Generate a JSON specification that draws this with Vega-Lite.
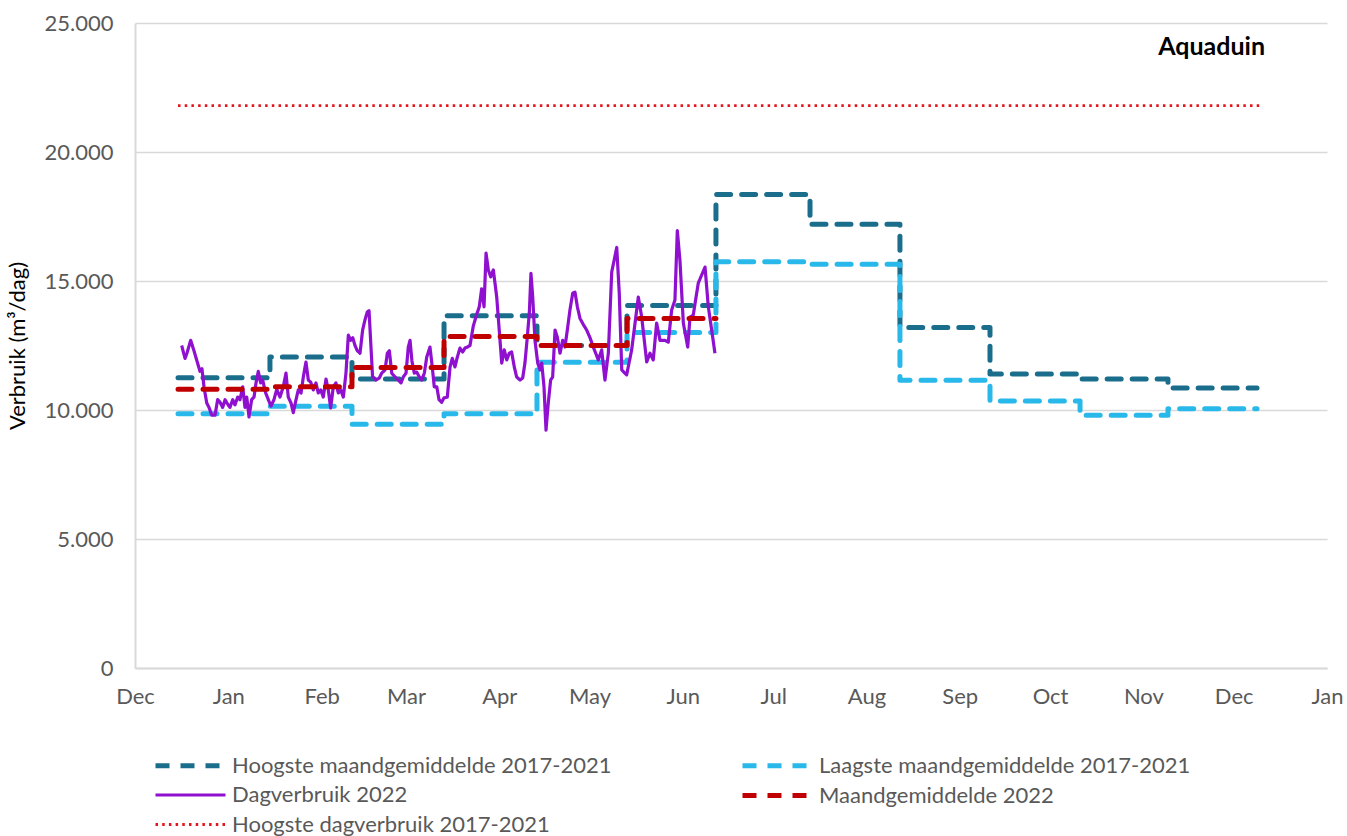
{
  "$schema": "https://vega.github.io/schema/vega-lite/v6.json",
  "width": 1192,
  "height": 645,
  "autosize": {"type": "none"},
  "padding": {"left": 135, "top": 23, "right": 20, "bottom": 168},
  "background": "white",
  "title": {
    "text": "Aquaduin",
    "anchor": "end",
    "frame": "group",
    "font": "Lato",
    "fontSize": 25,
    "fontWeight": "bold",
    "color": "#000000",
    "baseline": "alphabetic",
    "offset": 0,
    "dy": 68,
    "dx": -62
  },
  "datasets": {
    "maand": [
      {"serie": "Hoogste maandgemiddelde 2017-2021", "datum": "2021-12-15T07:00", "waarde": 11250},
      {"serie": "Hoogste maandgemiddelde 2017-2021", "datum": "2022-01-14T20:00", "waarde": 12050},
      {"serie": "Hoogste maandgemiddelde 2017-2021", "datum": "2022-02-11T02:00", "waarde": 11200},
      {"serie": "Hoogste maandgemiddelde 2017-2021", "datum": "2022-03-13T16:00", "waarde": 13650},
      {"serie": "Hoogste maandgemiddelde 2017-2021", "datum": "2022-04-13T13:00", "waarde": 12500},
      {"serie": "Hoogste maandgemiddelde 2017-2021", "datum": "2022-05-13T11:00", "waarde": 14050},
      {"serie": "Hoogste maandgemiddelde 2017-2021", "datum": "2022-06-12T00:00", "waarde": 18350},
      {"serie": "Hoogste maandgemiddelde 2017-2021", "datum": "2022-07-13T06:00", "waarde": 17200},
      {"serie": "Hoogste maandgemiddelde 2017-2021", "datum": "2022-08-12T03:00", "waarde": 13200},
      {"serie": "Hoogste maandgemiddelde 2017-2021", "datum": "2022-09-11T01:00", "waarde": 11400},
      {"serie": "Hoogste maandgemiddelde 2017-2021", "datum": "2022-10-10T23:00", "waarde": 11200},
      {"serie": "Hoogste maandgemiddelde 2017-2021", "datum": "2022-11-09T04:00", "waarde": 10850},
      {"serie": "Hoogste maandgemiddelde 2017-2021", "datum": "2022-12-08T18:00", "waarde": 10850},
      {"serie": "Laagste maandgemiddelde 2017-2021", "datum": "2021-12-15T07:00", "waarde": 9850},
      {"serie": "Laagste maandgemiddelde 2017-2021", "datum": "2022-01-14T20:00", "waarde": 10150},
      {"serie": "Laagste maandgemiddelde 2017-2021", "datum": "2022-02-11T02:00", "waarde": 9450},
      {"serie": "Laagste maandgemiddelde 2017-2021", "datum": "2022-03-13T16:00", "waarde": 9850},
      {"serie": "Laagste maandgemiddelde 2017-2021", "datum": "2022-04-13T13:00", "waarde": 11850},
      {"serie": "Laagste maandgemiddelde 2017-2021", "datum": "2022-05-13T11:00", "waarde": 13000},
      {"serie": "Laagste maandgemiddelde 2017-2021", "datum": "2022-06-12T00:00", "waarde": 15750},
      {"serie": "Laagste maandgemiddelde 2017-2021", "datum": "2022-07-13T06:00", "waarde": 15650},
      {"serie": "Laagste maandgemiddelde 2017-2021", "datum": "2022-08-12T03:00", "waarde": 11150},
      {"serie": "Laagste maandgemiddelde 2017-2021", "datum": "2022-09-11T01:00", "waarde": 10350},
      {"serie": "Laagste maandgemiddelde 2017-2021", "datum": "2022-10-10T23:00", "waarde": 9800},
      {"serie": "Laagste maandgemiddelde 2017-2021", "datum": "2022-11-09T04:00", "waarde": 10050},
      {"serie": "Laagste maandgemiddelde 2017-2021", "datum": "2022-12-08T18:00", "waarde": 10050},
      {"serie": "Maandgemiddelde 2022", "datum": "2021-12-15T07:00", "waarde": 10800},
      {"serie": "Maandgemiddelde 2022", "datum": "2022-01-14T20:00", "waarde": 10900},
      {"serie": "Maandgemiddelde 2022", "datum": "2022-02-11T02:00", "waarde": 11650},
      {"serie": "Maandgemiddelde 2022", "datum": "2022-03-13T16:00", "waarde": 12850},
      {"serie": "Maandgemiddelde 2022", "datum": "2022-04-13T13:00", "waarde": 12500},
      {"serie": "Maandgemiddelde 2022", "datum": "2022-05-13T11:00", "waarde": 13550},
      {"serie": "Maandgemiddelde 2022", "datum": "2022-06-12T00:00", "waarde": 13550}
    ],
    "maxdag": [
      {"serie": "Hoogste dagverbruik 2017-2021", "datum": "2021-12-15T07:00", "waarde": 21800},
      {"serie": "Hoogste dagverbruik 2017-2021", "datum": "2022-12-10T09:00", "waarde": 21800}
    ],
    "dag": [
      {"serie": "Dagverbruik 2022", "datum": "2021-12-16T12:00", "waarde": 12500},
      {"serie": "Dagverbruik 2022", "datum": "2021-12-17T15:00", "waarde": 12000},
      {"serie": "Dagverbruik 2022", "datum": "2021-12-18T06:00", "waarde": 12200},
      {"serie": "Dagverbruik 2022", "datum": "2021-12-19T12:00", "waarde": 12700},
      {"serie": "Dagverbruik 2022", "datum": "2021-12-20T14:00", "waarde": 12300},
      {"serie": "Dagverbruik 2022", "datum": "2021-12-21T14:00", "waarde": 11900},
      {"serie": "Dagverbruik 2022", "datum": "2021-12-22T14:00", "waarde": 11500},
      {"serie": "Dagverbruik 2022", "datum": "2021-12-23T06:00", "waarde": 11600},
      {"serie": "Dagverbruik 2022", "datum": "2021-12-23T22:00", "waarde": 10900},
      {"serie": "Dagverbruik 2022", "datum": "2021-12-24T20:00", "waarde": 10270},
      {"serie": "Dagverbruik 2022", "datum": "2021-12-25T14:00", "waarde": 10100},
      {"serie": "Dagverbruik 2022", "datum": "2021-12-26T12:00", "waarde": 9800},
      {"serie": "Dagverbruik 2022", "datum": "2021-12-27T14:00", "waarde": 9800},
      {"serie": "Dagverbruik 2022", "datum": "2021-12-28T11:00", "waarde": 10400},
      {"serie": "Dagverbruik 2022", "datum": "2021-12-29T06:00", "waarde": 10300},
      {"serie": "Dagverbruik 2022", "datum": "2021-12-30T03:00", "waarde": 10100},
      {"serie": "Dagverbruik 2022", "datum": "2021-12-30T22:00", "waarde": 10400},
      {"serie": "Dagverbruik 2022", "datum": "2021-12-31T13:00", "waarde": 10270},
      {"serie": "Dagverbruik 2022", "datum": "2022-01-01T13:00", "waarde": 10100},
      {"serie": "Dagverbruik 2022", "datum": "2022-01-02T11:00", "waarde": 10400},
      {"serie": "Dagverbruik 2022", "datum": "2022-01-03T05:00", "waarde": 10200},
      {"serie": "Dagverbruik 2022", "datum": "2022-01-04T03:00", "waarde": 10500},
      {"serie": "Dagverbruik 2022", "datum": "2022-01-04T21:00", "waarde": 10400},
      {"serie": "Dagverbruik 2022", "datum": "2022-01-05T19:00", "waarde": 10900},
      {"serie": "Dagverbruik 2022", "datum": "2022-01-06T13:00", "waarde": 10100},
      {"serie": "Dagverbruik 2022", "datum": "2022-01-07T03:00", "waarde": 10500},
      {"serie": "Dagverbruik 2022", "datum": "2022-01-07T21:00", "waarde": 9730},
      {"serie": "Dagverbruik 2022", "datum": "2022-01-08T18:00", "waarde": 10400},
      {"serie": "Dagverbruik 2022", "datum": "2022-01-09T13:00", "waarde": 10500},
      {"serie": "Dagverbruik 2022", "datum": "2022-01-10T05:00", "waarde": 11050},
      {"serie": "Dagverbruik 2022", "datum": "2022-01-10T23:00", "waarde": 11500},
      {"serie": "Dagverbruik 2022", "datum": "2022-01-11T18:00", "waarde": 11050},
      {"serie": "Dagverbruik 2022", "datum": "2022-01-12T10:00", "waarde": 11160},
      {"serie": "Dagverbruik 2022", "datum": "2022-01-13T10:00", "waarde": 10660},
      {"serie": "Dagverbruik 2022", "datum": "2022-01-14T07:00", "waarde": 10400},
      {"serie": "Dagverbruik 2022", "datum": "2022-01-15T04:00", "waarde": 10150},
      {"serie": "Dagverbruik 2022", "datum": "2022-01-16T04:00", "waarde": 10400},
      {"serie": "Dagverbruik 2022", "datum": "2022-01-17T02:00", "waarde": 10800},
      {"serie": "Dagverbruik 2022", "datum": "2022-01-18T04:00", "waarde": 10500},
      {"serie": "Dagverbruik 2022", "datum": "2022-01-19T06:00", "waarde": 10900},
      {"serie": "Dagverbruik 2022", "datum": "2022-01-20T04:00", "waarde": 11430},
      {"serie": "Dagverbruik 2022", "datum": "2022-01-20T22:00", "waarde": 10500},
      {"serie": "Dagverbruik 2022", "datum": "2022-01-21T20:00", "waarde": 10270},
      {"serie": "Dagverbruik 2022", "datum": "2022-01-22T14:00", "waarde": 9900},
      {"serie": "Dagverbruik 2022", "datum": "2022-01-23T12:00", "waarde": 10400},
      {"serie": "Dagverbruik 2022", "datum": "2022-01-24T06:00", "waarde": 10780},
      {"serie": "Dagverbruik 2022", "datum": "2022-01-25T04:00", "waarde": 10660},
      {"serie": "Dagverbruik 2022", "datum": "2022-01-25T22:00", "waarde": 11280},
      {"serie": "Dagverbruik 2022", "datum": "2022-01-26T19:00", "waarde": 11860},
      {"serie": "Dagverbruik 2022", "datum": "2022-01-27T14:00", "waarde": 11160},
      {"serie": "Dagverbruik 2022", "datum": "2022-01-28T09:00", "waarde": 11080},
      {"serie": "Dagverbruik 2022", "datum": "2022-01-29T06:00", "waarde": 10780},
      {"serie": "Dagverbruik 2022", "datum": "2022-01-30T03:00", "waarde": 11050},
      {"serie": "Dagverbruik 2022", "datum": "2022-01-30T21:00", "waarde": 10660},
      {"serie": "Dagverbruik 2022", "datum": "2022-01-31T17:00", "waarde": 10780},
      {"serie": "Dagverbruik 2022", "datum": "2022-02-01T13:00", "waarde": 10500},
      {"serie": "Dagverbruik 2022", "datum": "2022-02-02T11:00", "waarde": 11200},
      {"serie": "Dagverbruik 2022", "datum": "2022-02-03T05:00", "waarde": 10780},
      {"serie": "Dagverbruik 2022", "datum": "2022-02-04T00:00", "waarde": 10080},
      {"serie": "Dagverbruik 2022", "datum": "2022-02-04T21:00", "waarde": 10900},
      {"serie": "Dagverbruik 2022", "datum": "2022-02-05T18:00", "waarde": 11050},
      {"serie": "Dagverbruik 2022", "datum": "2022-02-06T13:00", "waarde": 10660},
      {"serie": "Dagverbruik 2022", "datum": "2022-02-07T08:00", "waarde": 10780},
      {"serie": "Dagverbruik 2022", "datum": "2022-02-08T05:00", "waarde": 10500},
      {"serie": "Dagverbruik 2022", "datum": "2022-02-09T02:00", "waarde": 11430},
      {"serie": "Dagverbruik 2022", "datum": "2022-02-09T21:00", "waarde": 12900},
      {"serie": "Dagverbruik 2022", "datum": "2022-02-10T16:00", "waarde": 12700},
      {"serie": "Dagverbruik 2022", "datum": "2022-02-11T08:00", "waarde": 12800},
      {"serie": "Dagverbruik 2022", "datum": "2022-02-12T02:00", "waarde": 12500},
      {"serie": "Dagverbruik 2022", "datum": "2022-02-12T20:00", "waarde": 12300},
      {"serie": "Dagverbruik 2022", "datum": "2022-02-13T18:00", "waarde": 12200},
      {"serie": "Dagverbruik 2022", "datum": "2022-02-14T15:00", "waarde": 13100},
      {"serie": "Dagverbruik 2022", "datum": "2022-02-15T10:00", "waarde": 13500},
      {"serie": "Dagverbruik 2022", "datum": "2022-02-16T04:00", "waarde": 13800},
      {"serie": "Dagverbruik 2022", "datum": "2022-02-16T18:00", "waarde": 13850},
      {"serie": "Dagverbruik 2022", "datum": "2022-02-17T22:00", "waarde": 11300},
      {"serie": "Dagverbruik 2022", "datum": "2022-02-19T01:00", "waarde": 11160},
      {"serie": "Dagverbruik 2022", "datum": "2022-02-20T04:00", "waarde": 11240},
      {"serie": "Dagverbruik 2022", "datum": "2022-02-20T23:00", "waarde": 11430},
      {"serie": "Dagverbruik 2022", "datum": "2022-02-22T01:00", "waarde": 11550},
      {"serie": "Dagverbruik 2022", "datum": "2022-02-22T20:00", "waarde": 12200},
      {"serie": "Dagverbruik 2022", "datum": "2022-02-23T12:00", "waarde": 12300},
      {"serie": "Dagverbruik 2022", "datum": "2022-02-24T07:00", "waarde": 11430},
      {"serie": "Dagverbruik 2022", "datum": "2022-02-25T09:00", "waarde": 11280},
      {"serie": "Dagverbruik 2022", "datum": "2022-02-26T11:00", "waarde": 11160},
      {"serie": "Dagverbruik 2022", "datum": "2022-02-27T09:00", "waarde": 11050},
      {"serie": "Dagverbruik 2022", "datum": "2022-02-28T03:00", "waarde": 11280},
      {"serie": "Dagverbruik 2022", "datum": "2022-03-01T01:00", "waarde": 11430},
      {"serie": "Dagverbruik 2022", "datum": "2022-03-01T19:00", "waarde": 12440},
      {"serie": "Dagverbruik 2022", "datum": "2022-03-02T09:00", "waarde": 12700},
      {"serie": "Dagverbruik 2022", "datum": "2022-03-03T00:00", "waarde": 11900},
      {"serie": "Dagverbruik 2022", "datum": "2022-03-03T19:00", "waarde": 11430},
      {"serie": "Dagverbruik 2022", "datum": "2022-03-04T14:00", "waarde": 11470},
      {"serie": "Dagverbruik 2022", "datum": "2022-03-05T11:00", "waarde": 11280},
      {"serie": "Dagverbruik 2022", "datum": "2022-03-06T06:00", "waarde": 11160},
      {"serie": "Dagverbruik 2022", "datum": "2022-03-07T03:00", "waarde": 11430},
      {"serie": "Dagverbruik 2022", "datum": "2022-03-07T22:00", "waarde": 12050},
      {"serie": "Dagverbruik 2022", "datum": "2022-03-09T00:00", "waarde": 12440},
      {"serie": "Dagverbruik 2022", "datum": "2022-03-09T18:00", "waarde": 11670},
      {"serie": "Dagverbruik 2022", "datum": "2022-03-10T10:00", "waarde": 10900},
      {"serie": "Dagverbruik 2022", "datum": "2022-03-11T06:00", "waarde": 10900},
      {"serie": "Dagverbruik 2022", "datum": "2022-03-12T00:00", "waarde": 10400},
      {"serie": "Dagverbruik 2022", "datum": "2022-03-12T21:00", "waarde": 10300},
      {"serie": "Dagverbruik 2022", "datum": "2022-03-13T16:00", "waarde": 10470},
      {"serie": "Dagverbruik 2022", "datum": "2022-03-14T18:00", "waarde": 10500},
      {"serie": "Dagverbruik 2022", "datum": "2022-03-15T16:00", "waarde": 11670},
      {"serie": "Dagverbruik 2022", "datum": "2022-03-16T10:00", "waarde": 12000},
      {"serie": "Dagverbruik 2022", "datum": "2022-03-17T07:00", "waarde": 11670},
      {"serie": "Dagverbruik 2022", "datum": "2022-03-18T02:00", "waarde": 12050},
      {"serie": "Dagverbruik 2022", "datum": "2022-03-18T23:00", "waarde": 12400},
      {"serie": "Dagverbruik 2022", "datum": "2022-03-19T21:00", "waarde": 12250},
      {"serie": "Dagverbruik 2022", "datum": "2022-03-20T15:00", "waarde": 12400},
      {"serie": "Dagverbruik 2022", "datum": "2022-03-21T10:00", "waarde": 12440},
      {"serie": "Dagverbruik 2022", "datum": "2022-03-22T07:00", "waarde": 12500},
      {"serie": "Dagverbruik 2022", "datum": "2022-03-23T09:00", "waarde": 13250},
      {"serie": "Dagverbruik 2022", "datum": "2022-03-24T12:00", "waarde": 13700},
      {"serie": "Dagverbruik 2022", "datum": "2022-03-25T09:00", "waarde": 14000},
      {"serie": "Dagverbruik 2022", "datum": "2022-03-26T04:00", "waarde": 14700},
      {"serie": "Dagverbruik 2022", "datum": "2022-03-26T23:00", "waarde": 14000},
      {"serie": "Dagverbruik 2022", "datum": "2022-03-27T15:00", "waarde": 16080},
      {"serie": "Dagverbruik 2022", "datum": "2022-03-28T09:00", "waarde": 15430},
      {"serie": "Dagverbruik 2022", "datum": "2022-03-29T04:00", "waarde": 15160},
      {"serie": "Dagverbruik 2022", "datum": "2022-03-30T01:00", "waarde": 15430},
      {"serie": "Dagverbruik 2022", "datum": "2022-03-31T04:00", "waarde": 14380},
      {"serie": "Dagverbruik 2022", "datum": "2022-04-01T00:00", "waarde": 13100},
      {"serie": "Dagverbruik 2022", "datum": "2022-04-01T20:00", "waarde": 11820},
      {"serie": "Dagverbruik 2022", "datum": "2022-04-02T16:00", "waarde": 12330},
      {"serie": "Dagverbruik 2022", "datum": "2022-04-03T12:00", "waarde": 11940},
      {"serie": "Dagverbruik 2022", "datum": "2022-04-04T08:00", "waarde": 12200},
      {"serie": "Dagverbruik 2022", "datum": "2022-04-05T03:00", "waarde": 12250},
      {"serie": "Dagverbruik 2022", "datum": "2022-04-06T00:00", "waarde": 11670},
      {"serie": "Dagverbruik 2022", "datum": "2022-04-06T19:00", "waarde": 11280},
      {"serie": "Dagverbruik 2022", "datum": "2022-04-07T22:00", "waarde": 11160},
      {"serie": "Dagverbruik 2022", "datum": "2022-04-08T19:00", "waarde": 11240},
      {"serie": "Dagverbruik 2022", "datum": "2022-04-09T13:00", "waarde": 11820},
      {"serie": "Dagverbruik 2022", "datum": "2022-04-10T08:00", "waarde": 12830},
      {"serie": "Dagverbruik 2022", "datum": "2022-04-11T00:00", "waarde": 13760},
      {"serie": "Dagverbruik 2022", "datum": "2022-04-11T13:00", "waarde": 15300},
      {"serie": "Dagverbruik 2022", "datum": "2022-04-12T03:00", "waarde": 14380},
      {"serie": "Dagverbruik 2022", "datum": "2022-04-12T21:00", "waarde": 12700},
      {"serie": "Dagverbruik 2022", "datum": "2022-04-13T19:00", "waarde": 11820},
      {"serie": "Dagverbruik 2022", "datum": "2022-04-14T13:00", "waarde": 11550},
      {"serie": "Dagverbruik 2022", "datum": "2022-04-15T03:00", "waarde": 11820},
      {"serie": "Dagverbruik 2022", "datum": "2022-04-15T21:00", "waarde": 10900},
      {"serie": "Dagverbruik 2022", "datum": "2022-04-16T13:00", "waarde": 9220},
      {"serie": "Dagverbruik 2022", "datum": "2022-04-17T07:00", "waarde": 10270},
      {"serie": "Dagverbruik 2022", "datum": "2022-04-18T02:00", "waarde": 11160},
      {"serie": "Dagverbruik 2022", "datum": "2022-04-18T18:00", "waarde": 11280},
      {"serie": "Dagverbruik 2022", "datum": "2022-04-19T13:00", "waarde": 13100},
      {"serie": "Dagverbruik 2022", "datum": "2022-04-20T07:00", "waarde": 12830},
      {"serie": "Dagverbruik 2022", "datum": "2022-04-21T05:00", "waarde": 12200},
      {"serie": "Dagverbruik 2022", "datum": "2022-04-22T02:00", "waarde": 12700},
      {"serie": "Dagverbruik 2022", "datum": "2022-04-22T20:00", "waarde": 12440},
      {"serie": "Dagverbruik 2022", "datum": "2022-04-23T15:00", "waarde": 13100},
      {"serie": "Dagverbruik 2022", "datum": "2022-04-24T12:00", "waarde": 13880},
      {"serie": "Dagverbruik 2022", "datum": "2022-04-25T10:00", "waarde": 14530},
      {"serie": "Dagverbruik 2022", "datum": "2022-04-26T04:00", "waarde": 14570},
      {"serie": "Dagverbruik 2022", "datum": "2022-04-26T23:00", "waarde": 14000},
      {"serie": "Dagverbruik 2022", "datum": "2022-04-27T20:00", "waarde": 13550},
      {"serie": "Dagverbruik 2022", "datum": "2022-04-29T00:00", "waarde": 13300},
      {"serie": "Dagverbruik 2022", "datum": "2022-04-30T01:00", "waarde": 13100},
      {"serie": "Dagverbruik 2022", "datum": "2022-05-01T04:00", "waarde": 12800},
      {"serie": "Dagverbruik 2022", "datum": "2022-05-02T06:00", "waarde": 12440},
      {"serie": "Dagverbruik 2022", "datum": "2022-05-03T22:00", "waarde": 11940},
      {"serie": "Dagverbruik 2022", "datum": "2022-05-05T01:00", "waarde": 12330},
      {"serie": "Dagverbruik 2022", "datum": "2022-05-06T03:00", "waarde": 11160},
      {"serie": "Dagverbruik 2022", "datum": "2022-05-07T06:00", "waarde": 12200},
      {"serie": "Dagverbruik 2022", "datum": "2022-05-08T09:00", "waarde": 15350},
      {"serie": "Dagverbruik 2022", "datum": "2022-05-10T01:00", "waarde": 16300},
      {"serie": "Dagverbruik 2022", "datum": "2022-05-10T21:00", "waarde": 14530},
      {"serie": "Dagverbruik 2022", "datum": "2022-05-11T17:00", "waarde": 11550},
      {"serie": "Dagverbruik 2022", "datum": "2022-05-13T08:00", "waarde": 11360},
      {"serie": "Dagverbruik 2022", "datum": "2022-05-15T00:00", "waarde": 12330},
      {"serie": "Dagverbruik 2022", "datum": "2022-05-17T05:00", "waarde": 14380},
      {"serie": "Dagverbruik 2022", "datum": "2022-05-18T08:00", "waarde": 13600},
      {"serie": "Dagverbruik 2022", "datum": "2022-05-20T00:00", "waarde": 11860},
      {"serie": "Dagverbruik 2022", "datum": "2022-05-21T02:00", "waarde": 12200},
      {"serie": "Dagverbruik 2022", "datum": "2022-05-22T04:00", "waarde": 11940},
      {"serie": "Dagverbruik 2022", "datum": "2022-05-23T07:00", "waarde": 13370},
      {"serie": "Dagverbruik 2022", "datum": "2022-05-24T10:00", "waarde": 12700},
      {"serie": "Dagverbruik 2022", "datum": "2022-05-26T02:00", "waarde": 12700},
      {"serie": "Dagverbruik 2022", "datum": "2022-05-27T04:00", "waarde": 12630},
      {"serie": "Dagverbruik 2022", "datum": "2022-05-28T07:00", "waarde": 13880},
      {"serie": "Dagverbruik 2022", "datum": "2022-05-29T09:00", "waarde": 14260},
      {"serie": "Dagverbruik 2022", "datum": "2022-05-30T04:00", "waarde": 16950},
      {"serie": "Dagverbruik 2022", "datum": "2022-05-31T01:00", "waarde": 15800},
      {"serie": "Dagverbruik 2022", "datum": "2022-06-01T04:00", "waarde": 13370},
      {"serie": "Dagverbruik 2022", "datum": "2022-06-02T15:00", "waarde": 12440},
      {"serie": "Dagverbruik 2022", "datum": "2022-06-03T09:00", "waarde": 13600},
      {"serie": "Dagverbruik 2022", "datum": "2022-06-04T11:00", "waarde": 13680},
      {"serie": "Dagverbruik 2022", "datum": "2022-06-06T03:00", "waarde": 14920},
      {"serie": "Dagverbruik 2022", "datum": "2022-06-08T09:00", "waarde": 15540},
      {"serie": "Dagverbruik 2022", "datum": "2022-06-09T11:00", "waarde": 14000},
      {"serie": "Dagverbruik 2022", "datum": "2022-06-10T14:00", "waarde": 13100},
      {"serie": "Dagverbruik 2022", "datum": "2022-06-11T16:00", "waarde": 12200}
    ]
  },
  "encoding": {
    "x": {
      "field": "datum",
      "type": "temporal",
      "scale": {
        "domain": [
          {"year": 2021, "month": 12, "date": 1},
          {"year": 2023, "month": 1, "date": 1}
        ]
      },
      "axis": {
        "title": null,
        "values": [
          {"year": 2021, "month": 12, "date": 1},
          {"year": 2022, "month": 1, "date": 1},
          {"year": 2022, "month": 2, "date": 1},
          {"year": 2022, "month": 3, "date": 1},
          {"year": 2022, "month": 4, "date": 1},
          {"year": 2022, "month": 5, "date": 1},
          {"year": 2022, "month": 6, "date": 1},
          {"year": 2022, "month": 7, "date": 1},
          {"year": 2022, "month": 8, "date": 1},
          {"year": 2022, "month": 9, "date": 1},
          {"year": 2022, "month": 10, "date": 1},
          {"year": 2022, "month": 11, "date": 1},
          {"year": 2022, "month": 12, "date": 1},
          {"year": 2023, "month": 1, "date": 1}
        ],
        "format": "%b",
        "grid": false,
        "ticks": false,
        "domain": true,
        "domainColor": "#d9d9d9",
        "domainWidth": 2,
        "labelFont": "Lato",
        "labelFontSize": 22,
        "labelColor": "#595959",
        "labelPadding": 18,
        "labelAngle": 0,
        "labelFlush": false,
        "labelOverlap": false
      }
    },
    "y": {
      "field": "waarde",
      "type": "quantitative",
      "scale": {"domain": [0, 25000], "nice": false, "zero": true},
      "axis": {
        "title": "Verbruik (m³/dag)",
        "titleFont": "Lato",
        "titleFontSize": 22,
        "titleFontWeight": "normal",
        "titleColor": "#000000",
        "titlePadding": 15,
        "values": [0, 5000, 10000, 15000, 20000, 25000],
        "labelExpr": "replace(format(datum.value, ','), regexp(',', 'g'), '.')",
        "grid": true,
        "gridColor": "#d9d9d9",
        "gridWidth": 1.5,
        "ticks": false,
        "domain": true,
        "domainColor": "#d9d9d9",
        "domainWidth": 2,
        "labelFont": "Lato",
        "labelFontSize": 22,
        "labelColor": "#595959",
        "labelPadding": 22
      }
    },
    "color": {
      "field": "serie",
      "type": "nominal",
      "scale": {
        "domain": [
          "Hoogste maandgemiddelde 2017-2021",
          "Dagverbruik 2022",
          "Hoogste dagverbruik 2017-2021",
          "Laagste maandgemiddelde 2017-2021",
          "Maandgemiddelde 2022"
        ],
        "range": ["#1b6e8b", "#9010d0", "#e3161d", "#29b8ea", "#c00000"]
      },
      "legend": {
        "title": null,
        "orient": "none",
        "legendX": 43,
        "legendY": 730,
        "columns": 2,
        "columnPadding": 120,
        "rowPadding": 6,
        "symbolType": "M-3.5,0H3.5",
        "symbolSize": 400,
        "labelFont": "Lato",
        "labelFontSize": 22,
        "labelColor": "#595959",
        "labelLimit": 600,
        "labelOffset": 29
      }
    },
    "strokeDash": {
      "field": "serie",
      "type": "nominal",
      "scale": {
        "type": "ordinal",
        "domain": [
          "Hoogste maandgemiddelde 2017-2021",
          "Dagverbruik 2022",
          "Hoogste dagverbruik 2017-2021",
          "Laagste maandgemiddelde 2017-2021",
          "Maandgemiddelde 2022"
        ],
        "range": [[14, 11], [1, 0], [2.5, 4.2], [14, 11], [14, 11]]
      },
      "legend": null
    },
    "strokeWidth": {
      "field": "serie",
      "type": "nominal",
      "scale": {
        "type": "ordinal",
        "domain": [
          "Hoogste maandgemiddelde 2017-2021",
          "Dagverbruik 2022",
          "Hoogste dagverbruik 2017-2021",
          "Laagste maandgemiddelde 2017-2021",
          "Maandgemiddelde 2022"
        ],
        "range": [5, 3.2, 2.8, 5, 5]
      },
      "legend": null
    }
  },
  "layer": [
    {
      "data": {"name": "maand"},
      "transform": [{"filter": "datum.serie !== 'Maandgemiddelde 2022'"}],
      "mark": {"type": "line", "interpolate": "step-after", "strokeCap": "round", "strokeJoin": "round"}
    },
    {
      "data": {"name": "dag"},
      "mark": {"type": "line", "interpolate": "linear", "strokeJoin": "round"}
    },
    {
      "data": {"name": "maand"},
      "transform": [{"filter": "datum.serie === 'Maandgemiddelde 2022'"}],
      "mark": {"type": "line", "interpolate": "step-after", "strokeCap": "round", "strokeJoin": "round"}
    },
    {
      "data": {"name": "maxdag"},
      "mark": {"type": "line", "interpolate": "linear"}
    }
  ],
  "config": {
    "view": {"stroke": null},
    "font": "Lato"
  }
}
